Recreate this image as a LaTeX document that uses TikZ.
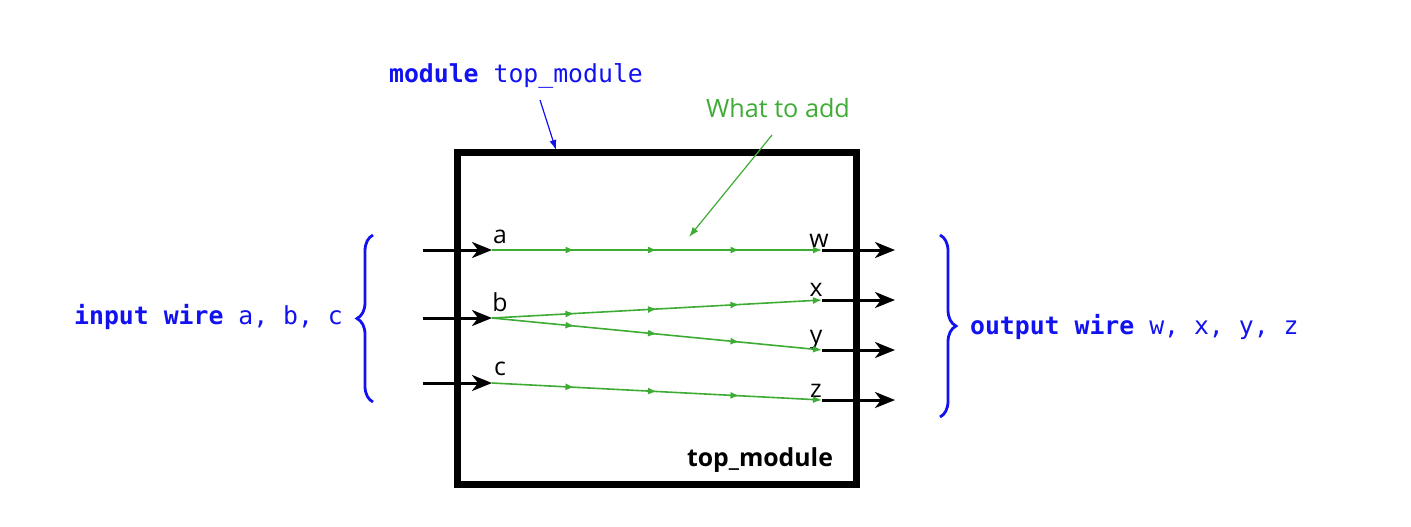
\documentclass[tikz,border=0pt]{standalone}
\usepackage{fontspec}
\setmainfont{Open Sans}
\setmonofont{DejaVu Sans Mono}
\usetikzlibrary{arrows.meta,decorations.pathreplacing,decorations.markings}
\definecolor{addgreen}{RGB}{62,172,52}
\definecolor{kwblue}{RGB}{18,18,240}

\begin{document}
\begin{tikzpicture}[x=0.5pt,y=-0.5pt,
    font=\fontsize{12.4}{15}\selectfont,
    wire/.style={line width=1.5pt,-{Stealth[length=10pt,width=8pt,inset=3pt]}},
    addwire/.style={addgreen,line width=0.8pt,-{Latex[length=4.5pt,width=3.5pt]},
      postaction={decorate},
      decoration={markings,
        mark=at position 0.25 with {\arrow{Latex[length=4.5pt,width=3.5pt]}},
        mark=at position 0.5 with {\arrow{Latex[length=4.5pt,width=3.5pt]}},
        mark=at position 0.75 with {\arrow{Latex[length=4.5pt,width=3.5pt]}}}},
    pointer/.style={line width=0.6pt,-{Latex[length=5pt,width=3.5pt]}},
    wirebrace/.style={kwblue,line width=1.4pt,decorate,decoration={brace,amplitude=8pt}},
    code/.style={kwblue,font=\ttfamily\fontsize{12.4}{15}\selectfont}]
    \useasboundingbox (0,0) rectangle (1411,526);

    % the module box
    \node[draw,line width=3.5pt,minimum width=199.5pt,minimum height=166pt] (top) at (656.5,318) {};
    \node[font=\bfseries\fontsize{12.4}{15}\selectfont,anchor=east] (topname) at (840,460) {top\_module};

    % ports
    \foreach \p/\y in {a/250,b/318,c/383} {
      \coordinate (\p src) at (423,\y);
      \coordinate (\p) at (492,\y);
      \draw[wire] (\p src) -- (\p);
    }
    \foreach \p/\y in {w/250,x/300,y/350,z/400} {
      \coordinate (\p) at (822,\y);
      \coordinate (\p dst) at (895,\y);
      \draw[wire] (\p) -- (\p dst);
    }
    \node (la) at (500,237) {a};
    \node (lb) at (500,302) {b};
    \node (lc) at (500,369) {c};
    \node (lw) at (819,241) {w};
    \node (lx) at (816,290) {x};
    \node (ly) at (816,340) {y};
    \node (lz) at (816,391) {z};

    % the assignments to add
    \draw[addwire] (a) -- (w);
    \draw[addwire] (b) -- (x);
    \draw[addwire] (b) -- (y);
    \draw[addwire] (c) -- (z);

    % annotations
    \node[code,anchor=west] (modlabel) at (382,76) {\textbf{module} top\string_module};
    \coordinate (modfrom) at (540,100);
    \coordinate (modto) at (556,150);
    \draw[pointer,kwblue] (modfrom) -- (modto);

    \node[addgreen,font=\fontsize{12.6}{15}\selectfont] (addnote) at (778,108) {What to add};
    \coordinate (addfrom) at (772,135);
    \coordinate (addto) at (689,237);
    \draw[pointer,addgreen] (addfrom) -- (addto);

    \draw[wirebrace] (373,402) -- (373,235);
    \node[code,anchor=east] (inlabel) at (350,317) {\textbf{input wire} a, b, c};
    \draw[wirebrace] (940,235) -- (940,417);
    \node[code,anchor=west] (outlabel) at (963,327) {\textbf{output wire} w, x, y, z};
\end{tikzpicture}
\end{document}
